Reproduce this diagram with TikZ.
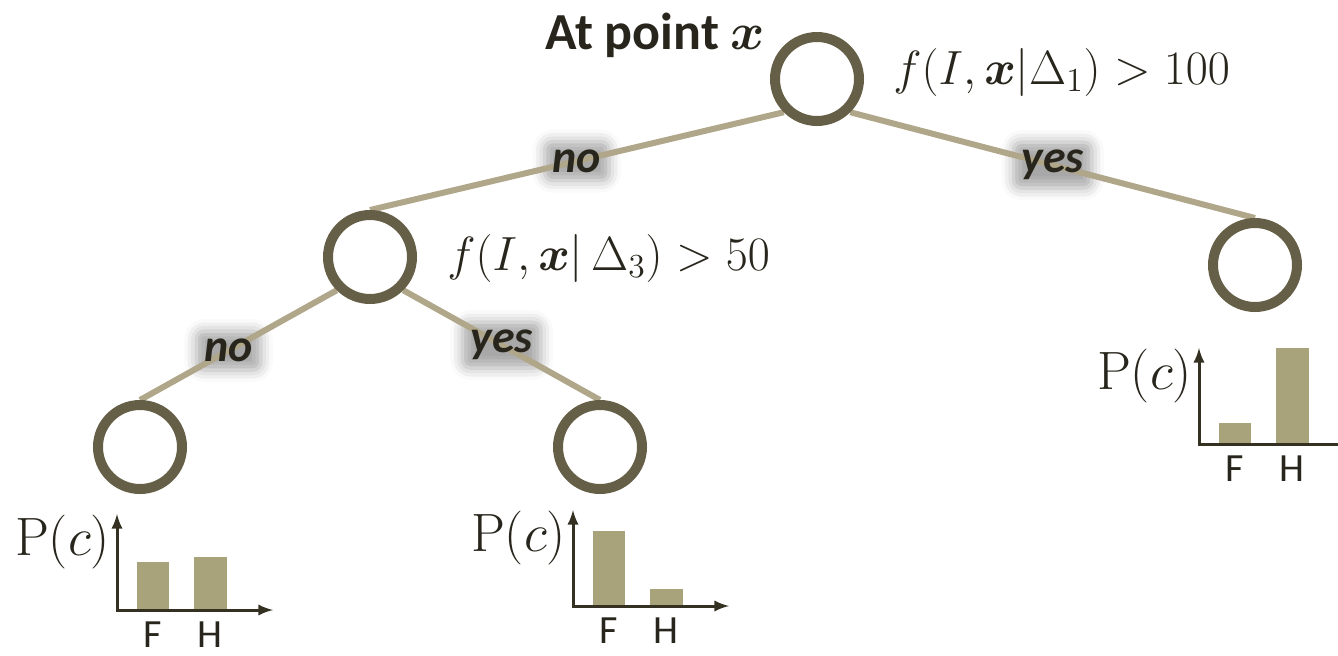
\RequirePackage{fix-cm}
\documentclass[tikz,border=0pt]{standalone}
\usepackage{amsmath}
\usepackage[no-math]{fontspec}
\setmainfont{Carlito}
\usetikzlibrary{backgrounds,shadows.blur}

\definecolor{ringc}{RGB}{102,95,72}
\definecolor{branchc}{RGB}{176,166,138}
\definecolor{barc}{RGB}{169,163,123}
\definecolor{axisc}{RGB}{52,49,35}
\definecolor{ink}{RGB}{40,38,28}

\tikzset{
  ring/.style={circle,draw=ringc,line width=5pt,minimum size=42pt,inner sep=0pt},
  branch/.style={draw=branchc,line width=3pt},
  answer/.style={font=\fontsize{23}{28}\selectfont\bfseries\itshape,text=ink,inner sep=2pt},
  halo/.style={inner sep=4pt,rounded corners=4pt,
    blur shadow={shadow xshift=0pt,shadow yshift=0pt,shadow blur radius=6pt,shadow opacity=34}},
  test/.style={anchor=west,inner sep=0pt,text=ink,font=\fontsize{24}{28}\selectfont},
  bin/.style={anchor=base,inner sep=0pt,text=ink,font=\fontsize{20}{24}\selectfont}
}

% edge with a glowing answer: from, to, text, pos
\newcommand{\branch}[4]{
  \path (#1) -- node[answer,halo,pos=#4] {\phantom{#3}} (#2);
  \draw[branch] (#1) -- node[answer,pos=#4] {#3} (#2);
}

% histogram: origin x, origin y, bar F, bar H
\newcommand{\histo}[4]{
  \fill[barc] (#1+20,#2) rectangle (#1+52,#2-#3);
  \fill[barc] (#1+77,#2) rectangle (#1+110,#2-#4);
  \draw[axisc,line width=1.5pt,<->] (#1,#2-96) |- (#1+156,#2);
  \node[anchor=east,text=ink,font=\fontsize{27}{32}\selectfont] at (#1,#2-68) {$\mathrm{P}(c)$};
  \node[bin] at (#1+36,#2+37) {F};
  \node[bin] at (#1+93,#2+37) {H};
}

\begin{document}
\begin{tikzpicture}[x=0.5pt,y=-0.5pt,>=latex]
  \useasboundingbox (0,0) rectangle (1338,655);

  \node[ring] (root) at (817,79) {};
  \node[ring] (left) at (370,257) {};
  \node[ring] (right) at (1255,265) {};
  \node[ring] (leftno) at (140,447) {};
  \node[ring] (leftyes) at (600,447) {};

  \node[text=ink,font=\fontsize{26}{30}\selectfont\bfseries] (title) at (655,35) {At point $\boldsymbol{x}$};
  \node[test] (q1) at (893,72) {$f(I,\boldsymbol{x}|\Delta_1)>100$};
  \node[test] (q3) at (447,258) {$f(I,\boldsymbol{x}|\,\Delta_3)>50$};

  \begin{scope}[on background layer]
    \branch{root.south west}{left.north}{no}{0.5}
    \branch{root.south east}{right.north}{yes}{0.5}
    \branch{left.south west}{leftno.north}{no}{0.55}
    \branch{left.south east}{leftyes.north}{yes}{0.5}
  \end{scope}

  \histo{117}{610}{48}{53}
  \histo{573}{606}{75}{17}
  \histo{1199}{444}{21}{96}
\end{tikzpicture}
\end{document}
